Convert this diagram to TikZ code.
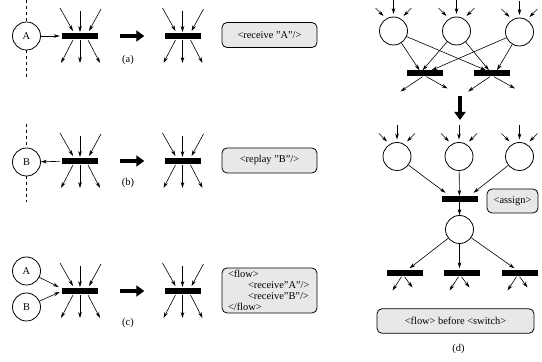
\documentclass[tikz,border=0pt]{standalone}
\usepackage{fontspec}
\setmainfont{Liberation Serif}
\usetikzlibrary{arrows.meta}

\begin{document}
\begin{tikzpicture}[x=1pt,y=1pt,
  txt/.style={font=\fontsize{10.4}{11}\selectfont},
  place/.style={draw,circle,line width=0.8pt,minimum size=28pt,inner sep=0pt,txt},
  trans/.style={fill=black,minimum width=36pt,minimum height=6pt,inner sep=0pt},
  arc/.style={line width=0.6pt,-{Stealth[length=6pt,width=3.6pt]}},
  bigarrow/.style={line width=4.5pt,-{Triangle[length=8pt,width=11pt]}},
  code/.style={draw,rounded corners=5pt,fill=black!9,line width=0.8pt,inner sep=0pt,txt},
  thread/.style={line width=0.6pt,dashed}]
\useasboundingbox (0,0) rectangle (542,362);
% (a) receive
\node[place] (A1) at (26.5,326) {A};
\node[trans] (ta1) at (80,326) {};
\node[trans] (ta2) at (182.5,326) {};
\node[code,minimum width=95pt,minimum height=25pt] (ca) at (269.5,327) {<receive "A"/>};
\node[txt] (la) at (128,302) {(a)};
\coordinate (Atop) at (26.5,362);
\coordinate (Abot) at (26.5,285);
\draw[thread] (Atop) -- (A1);
\draw[thread] (A1) -- (Abot);
\draw[arc,shorten >=2pt] (A1) -- (ta1);
\draw[bigarrow] ([xshift=22pt]ta1.east) -- ([xshift=-20pt]ta2.west);
% (b) reply
\node[place] (B1) at (26.5,200) {B};
\node[trans] (tb1) at (80,201) {};
\node[trans] (tb2) at (182.5,201) {};
\node[code,minimum width=95pt,minimum height=25pt] (cb) at (269.5,201.5) {<replay "B"/>};
\node[txt] (lb) at (128,179) {(b)};
\coordinate (Btop) at (26.5,238);
\coordinate (Bbot) at (26.5,160);
\draw[thread] (Btop) -- (B1);
\draw[thread] (B1) -- (Bbot);
\draw[arc,shorten <=2pt] (tb1) -- (B1);
\draw[bigarrow] ([xshift=22pt]tb1.east) -- ([xshift=-20pt]tb2.west);
% (c) flow
\node[place] (A2) at (26.5,91) {A};
\node[place] (B2) at (26.5,55) {B};
\node[trans] (tc1) at (80,71) {};
\node[trans] (tc2) at (182.5,71) {};
\node[code,minimum width=95pt,minimum height=45pt,text width=83pt,align=left] (cc) at (269.5,71.5)
  {<flow>\\\hspace*{20pt}<receive"A"/>\\\hspace*{20pt}<receive"B"/>\\</flow>};
\node[txt] (lc) at (128,39) {(c)};
\draw[arc] (A2) -- ([shift={(-3,4)}]tc1.west);
\draw[arc] (B2) -- ([shift={(-2,-1)}]tc1.west);
\draw[bigarrow] ([xshift=22pt]tc1.east) -- ([xshift=-20pt]tc2.west);
\foreach \t in {ta1,ta2,tb1,tb2,tc1,tc2} {
  \draw[arc] ([shift={(-20,28)}]\t.center) -- ([shift={(-7,5)}]\t.center);
  \draw[arc] ([shift={(0,25)}]\t.center) -- ([shift={(0,4)}]\t.center);
  \draw[arc] ([shift={(21,27)}]\t.center) -- ([shift={(9,5)}]\t.center);
  \draw[arc] ([shift={(-7,-4)}]\t.center) -- ([shift={(-19,-27)}]\t.center);
  \draw[arc] ([shift={(0,-4)}]\t.center) -- ([shift={(0,-27)}]\t.center);
  \draw[arc] ([shift={(8,-4)}]\t.center) -- ([shift={(20,-27)}]\t.center);
}
% (d) before / after
\node[place] (p1) at (393.5,331) {};
\node[place] (p2) at (456.5,331) {};
\node[place] (p3) at (519.5,330) {};
\node[trans] (lt) at (424.5,288.5) {};
\node[trans] (rt) at (492,288.5) {};
\draw[arc] (p1) -- ([xshift=-5pt]lt.north);
\draw[arc] (p1) -- ([xshift=-6pt]rt.north);
\draw[arc] (p2) -- ([xshift=-2pt]lt.north);
\draw[arc] (p2) -- ([xshift=-3pt]rt.north);
\draw[arc] (p3) -- ([xshift=7pt]lt.north);
\draw[arc] (p3) -- ([xshift=5pt]rt.north);
\foreach \b in {lt,rt} {
  \draw[arc] ([xshift=-2pt]\b.south) -- ([shift={(-24,-18)}]\b.center);
  \draw[arc] ([xshift=2pt]\b.south) -- ([shift={(23,-15)}]\b.center);
}
\coordinate (dtop) at (460,265.5);
\coordinate (dbot) at (460,242);
\draw[bigarrow] (dtop) -- (dbot);
\node[place] (q1) at (397,205.5) {};
\node[place] (q2) at (459,205.5) {};
\node[place] (q3) at (519.5,205.5) {};
\node[trans] (mb) at (459.5,163) {};
\node[code,minimum width=51pt,minimum height=24pt] (asg) at (512.5,161) {<assign>};
\draw[arc] (q1) -- ([shift={(-14,3)}]mb.north);
\draw[arc] (q2) -- (mb);
\draw[arc] (q3) -- ([shift={(14,3)}]mb.north);
\foreach \p in {p1,p2,p3,q1,q2,q3} {
  \draw[arc] ([shift={(0,31)}]\p.center) -- ([shift={(0,17)}]\p.center);
  \draw[arc] ([shift={(-18,23)}]\p.center) -- ([shift={(-10,15)}]\p.center);
  \draw[arc] ([shift={(18,23)}]\p.center) -- ([shift={(10,15)}]\p.center);
}
\node[place] (r) at (459.5,132.5) {};
\draw[arc] (mb) -- (r);
\node[trans] (b1) at (404.5,88.5) {};
\node[trans] (b2) at (461.5,88.5) {};
\node[trans] (b3) at (519.5,88.5) {};
\draw[arc] (r) -- ([shift={(5,2)}]b1.north);
\draw[arc] (r) -- ([shift={(-2,2)}]b2.north);
\draw[arc] (r) -- ([shift={(-5,2)}]b3.north);
\foreach \b in {b1,b2,b3} {
  \draw[arc] ([xshift=-3pt]\b.south) -- ([shift={(-12,-17)}]\b.center);
  \draw[arc] ([xshift=0pt]\b.south) -- ([shift={(8,-14)}]\b.center);
}
\node[code,minimum width=157pt,minimum height=24.5pt] (sw) at (455.5,41) {<flow> before <switch>};
\node[txt] (ld) at (458.5,12.5) {(d)};
\end{tikzpicture}
\end{document}
